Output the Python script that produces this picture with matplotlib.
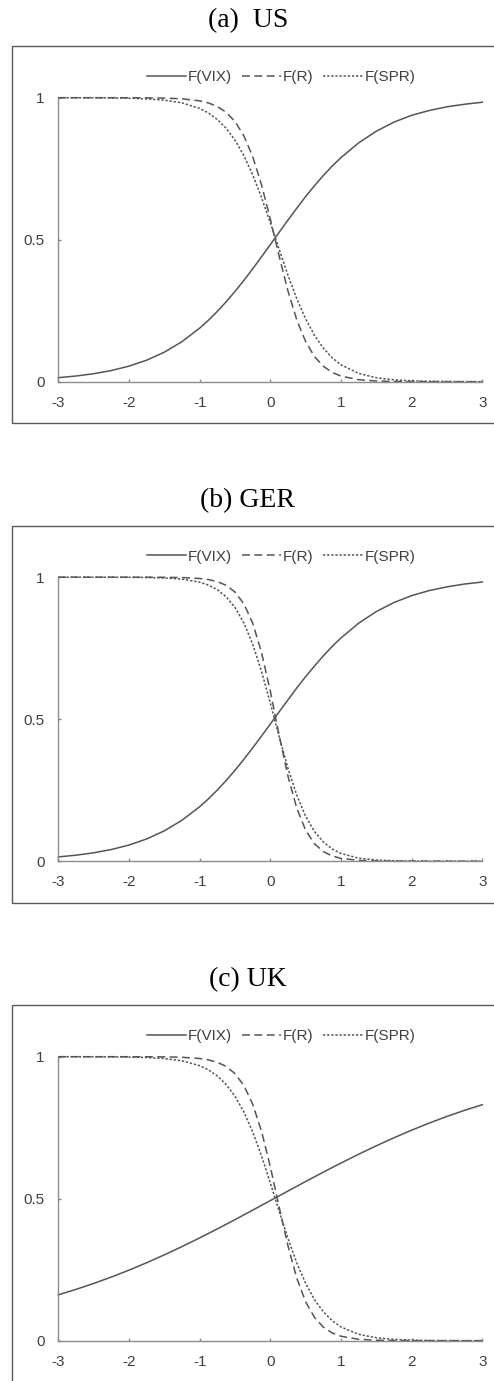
import matplotlib
matplotlib.use("Agg")
import matplotlib.pyplot as plt
from matplotlib.patches import Rectangle

plt.rcParams["axes.unicode_minus"] = False

# -----------------------------
# Data
# -----------------------------
x = [-3, -2.75, -2.5, -2.25, -2, -1.75, -1.5, -1.25, -1, -0.875, -0.75, -0.625,
     -0.5, -0.375, -0.25, -0.125, 0, 0.125, 0.25, 0.375, 0.5, 0.625, 0.75, 0.875,
     1, 1.25, 1.5, 1.75, 2, 2.25, 2.5, 2.75, 3]

titles = ["(a)  US", "(b) GER", "(c) UK"]
series_names = ["F(VIX)", "F(R)", "F(SPR)"]

us_vix = [0.0142, 0.0200, 0.0281, 0.0393, 0.0548, 0.0757, 0.1039, 0.1410, 0.1885, 0.2165,
          0.2475, 0.2813, 0.3176, 0.3564, 0.3972, 0.4395, 0.4826, 0.526, 0.569, 0.611,
          0.652, 0.690, 0.726, 0.759, 0.789, 0.841, 0.882, 0.914, 0.938, 0.955, 0.968,
          0.977, 0.984]
us_r = [1.0, 1.0, 1.0, 0.9999, 0.9998, 0.9995, 0.9986, 0.9961, 0.9889, 0.9815,
        0.9690, 0.9488, 0.9162, 0.8663, 0.7932, 0.6940, 0.5730, 0.4425, 0.3195, 0.2174,
        0.1412, 0.0886, 0.0544, 0.0329, 0.0197, 0.0070, 0.0025, 0.0009, 0.0003, 0.0001,
        0.0, 0.0, 0.0]
us_spr = [0.9999, 0.9998, 0.9996, 0.9991, 0.9981, 0.9959, 0.9913, 0.9818, 0.9623, 0.9461,
          0.9234, 0.8924, 0.8507, 0.7966, 0.7291, 0.6491, 0.5597, 0.4663, 0.3752, 0.2921,
          0.2209, 0.1632, 0.1182, 0.0843, 0.0595, 0.0290, 0.0139, 0.0066, 0.0031, 0.0015,
          0.0007, 0.0003, 0.0002]

ger_vix = [0.0151, 0.0211, 0.0295, 0.0411, 0.0568, 0.0783, 0.1068, 0.1442, 0.1917, 0.2197,
           0.2504, 0.2840, 0.3200, 0.3585, 0.3987, 0.4404, 0.4829, 0.526, 0.568, 0.610,
           0.650, 0.687, 0.723, 0.756, 0.786, 0.838, 0.879, 0.911, 0.935, 0.953, 0.966,
           0.976, 0.983]
ger_r = [1.0, 1.0, 1.0, 1.0, 1.0, 0.9999, 0.9996, 0.9987, 0.9955, 0.9917,
         0.9845, 0.9714, 0.9478, 0.9068, 0.8389, 0.7359, 0.5987, 0.4440, 0.2994, 0.1862,
         0.1091, 0.0615, 0.0339, 0.0184, 0.0100, 0.0029, 0.0008, 0.0002, 0.0, 0.0,
         0.0, 0.0, 0.0]
ger_spr = [1.0, 1.0, 0.9999, 0.9998, 0.9996, 0.9990, 0.9973, 0.9932, 0.9825, 0.9722,
           0.9560, 0.9310, 0.8935, 0.8393, 0.7646, 0.6689, 0.5568, 0.4386, 0.3270, 0.2320,
           0.1582, 0.1046, 0.0677, 0.0432, 0.0273, 0.0107, 0.0042, 0.0016, 0.0006, 0.0002,
           0.0001, 0.0, 0.0]

uk_vix = [0.1615, 0.1806, 0.2015, 0.2241, 0.2484, 0.2745, 0.3022, 0.3314, 0.3619, 0.3777,
          0.3936, 0.4099, 0.4263, 0.4429, 0.4596, 0.4764, 0.4933, 0.5101, 0.5270, 0.5438,
          0.5605, 0.5770, 0.5934, 0.6096, 0.6255, 0.6566, 0.6863, 0.7146, 0.7413, 0.7664,
          0.7897, 0.8112, 0.8310]
uk_r = [1.0, 1.0, 1.0, 1.0, 0.9999, 0.9998, 0.9994, 0.9980, 0.9937, 0.9888,
        0.9804, 0.9657, 0.9405, 0.8989, 0.8334, 0.7379, 0.6130, 0.4713, 0.3340, 0.2200,
        0.1371, 0.0820, 0.0479, 0.0275, 0.0157, 0.0050, 0.0016, 0.0005, 0.0002, 0.0001,
        0.0, 0.0, 0.0]
uk_spr = [1.0, 0.9999, 0.9997, 0.9994, 0.9987, 0.9970, 0.9935, 0.9856, 0.9685, 0.9536,
          0.9324, 0.9024, 0.8610, 0.8060, 0.7358, 0.6511, 0.5558, 0.4561, 0.3599, 0.2737,
          0.2017, 0.1448, 0.1019, 0.0707, 0.0485, 0.0224, 0.0102, 0.0046, 0.0021, 0.0009,
          0.0004, 0.0002, 0.0001]

panels = [
    (us_vix, us_r, us_spr),
    (ger_vix, ger_r, ger_spr),
    (uk_vix, uk_r, uk_spr),
]

xticks = [-3, -2, -1, 0, 1, 2, 3]
yticks = [0, 0.5, 1]
ytick_labels = ["0", "0.5", "1"]

# -----------------------------
# Figure setup (pixel layout)
# -----------------------------
W, H = 494, 1381
fig = plt.figure(figsize=(W / 100, H / 100), dpi=100, facecolor="white")

sans = ["Liberation Sans", "DejaVu Sans"]
line_color = "#555555"
axis_color = "#8c8c8c"
styles = [
    dict(linestyle="-"),
    dict(linestyle=(0, (5.2, 2.9))),
    dict(linestyle=(0, (1.5, 1.2))),
]

step = 479.5
for i, (title, curves) in enumerate(zip(titles, panels)):
    dy = i * step

    # outer box around panel
    bx0, bx1 = 11.7, 505
    by0, by1 = 46 + dy, 423 + dy
    box = Rectangle((bx0 / W, 1 - by1 / H), (bx1 - bx0) / W, (by1 - by0) / H,
                    transform=fig.transFigure, fill=False,
                    edgecolor="#595959", linewidth=1.0, clip_on=False)
    fig.patches.append(box)

    # title
    fig.text(248 / W, 1 - (21 + dy) / H, title, ha="center", va="center",
             fontsize=20, family=["Liberation Serif", "DejaVu Serif"])

    # axes
    ax_l, ax_r = 58.3, 482.3
    ax_t, ax_b = 97.7 + dy, 381.7 + dy
    ax = fig.add_axes([ax_l / W, 1 - ax_b / H, (ax_r - ax_l) / W, (ax_b - ax_t) / H])

    for vals, name, st in zip(curves, series_names, styles):
        ax.plot(x, vals, color=line_color, linewidth=1.1, label=name,
                clip_on=False, solid_joinstyle="round", **st)

    ax.set_xlim(-3, 3)
    ax.set_ylim(0, 1)
    ax.set_xticks(xticks)
    ax.set_yticks(yticks)
    ax.set_yticklabels(ytick_labels)

    for side in ["top", "right"]:
        ax.spines[side].set_visible(False)
    for side in ["left", "bottom"]:
        ax.spines[side].set_color(axis_color)
        ax.spines[side].set_linewidth(1.0)

    ax.tick_params(axis="both", direction="in", length=2.5, width=1.0,
                   color=axis_color, labelsize=11, labelcolor="#404040")
    ax.tick_params(axis="x", pad=10)
    ax.tick_params(axis="y", pad=10)
    for lab in ax.get_xticklabels() + ax.get_yticklabels():
        lab.set_family(sans)

    leg = ax.legend(loc="center", bbox_to_anchor=(281 / W, 1 - (77 + dy) / H),
                    bbox_transform=fig.transFigure, ncol=3, frameon=False,
                    handlelength=2.6, handletextpad=0.12,
                    columnspacing=0.6, borderpad=0, borderaxespad=0,
                    prop={"family": sans, "size": 11})
    for t in leg.get_texts():
        t.set_color("#404040")

fig.savefig("out.png", dpi=100, facecolor="white")
